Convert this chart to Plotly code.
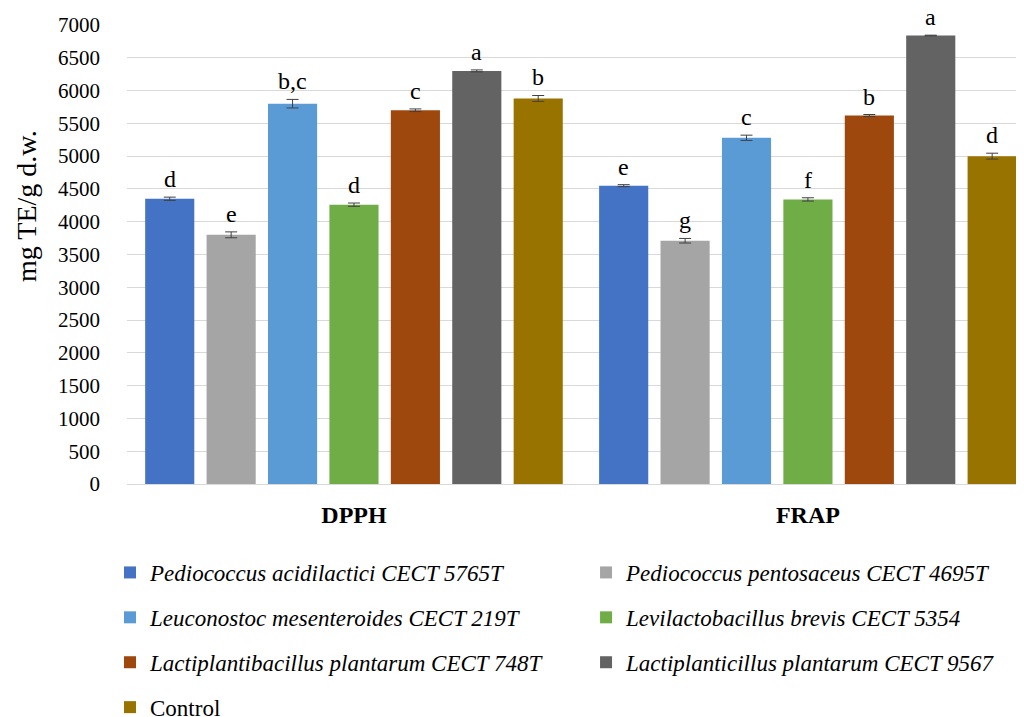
import plotly.graph_objects as go

categories = ["DPPH", "FRAP"]
series_names = [
    "<i>Pediococcus acidilactici CECT 5765T</i>",
    "<i>Pediococcus pentosaceus CECT 4695T</i>",
    "<i>Leuconostoc mesenteroides CECT 219T</i>",
    "<i>Levilactobacillus brevis CECT 5354</i>",
    "<i>Lactiplantibacillus plantarum CECT 748T</i>",
    "<i>Lactiplanticillus plantarum CECT 9567</i>",
    "Control",
]
values = [
    [4350, 4550],
    [3800, 3710],
    [5800, 5280],
    [4260, 4340],
    [5700, 5620],
    [6300, 6840],
    [5880, 5000],
]
errors = [
    [25, 15],
    [45, 35],
    [65, 40],
    [25, 25],
    [20, 15],
    [15, 5],
    [45, 45],
]
letters = [
    ["d", "e"],
    ["e", "g"],
    ["b,c", "c"],
    ["d", "f"],
    ["c", "b"],
    ["a", "a"],
    ["b", "d"],
]
colors = ["#4472C4", "#A5A5A5", "#5B9BD5", "#70AD47", "#9E480E", "#636363", "#997300"]

FONT = "Liberation Serif"
bargap = 0.053
n = len(series_names)

fig = go.Figure()
for i in range(n):
    fig.add_trace(go.Bar(
        x=categories, y=values[i],
        name=series_names[i],
        legend="legend" if i % 2 == 0 else "legend2",
        legendgroup="g%d" % i,
        marker=dict(color=colors[i], line=dict(width=0)),
        error_y=dict(type="data", array=errors[i], visible=True,
                     color="#404040", thickness=1, width=6),
    ))

annotations = []
for i in range(n):
    for c in range(len(categories)):
        xpos = c - (1 - bargap) / 2 + (i + 0.5) * (1 - bargap) / n
        annotations.append(dict(
            x=xpos, y=values[i][c] + errors[i][c], xref="x", yref="y",
            text=letters[i][c], showarrow=False, yanchor="bottom", yshift=3,
            font=dict(family=FONT, size=24, color="#000000"),
        ))

annotations.append(dict(
    text="mg TE/g d.w.", textangle=-90, showarrow=False,
    xref="paper", yref="paper", x=-0.1115, y=0.6057,
    xanchor="center", yanchor="middle",
    font=dict(family=FONT, size=28, color="#000000"),
))

legend_common = dict(
    orientation="v", xref="container", yref="container",
    xanchor="left", yanchor="top",
    font=dict(family=FONT, size=23, color="#000000"),
    itemwidth=30, traceorder="grouped", tracegroupgap=12,
    bgcolor="rgba(0,0,0,0)",
)

fig.update_layout(
    width=1024, height=717,
    margin=dict(l=119, r=8, t=17, b=241, autoexpand=False),
    paper_bgcolor="white", plot_bgcolor="white",
    barmode="group", bargap=bargap, bargroupgap=0.2,
    font=dict(family=FONT, color="#000000"),
    annotations=annotations,
    showlegend=True,
    legend=dict(x=0.0996, y=0.2427, **legend_common),
    legend2=dict(x=0.5645, y=0.2427, **legend_common),
)
fig.update_xaxes(
    type="category", range=[-0.5, 1.476],
    showline=True, linecolor="#D9D9D9", linewidth=1,
    ticks="", tickfont=dict(family=FONT, size=24, color="#000000", weight="bold"),
    ticklabelstandoff=9, automargin=False,
)
fig.update_yaxes(
    range=[0, 7000], dtick=500, showgrid=True, gridcolor="#D9D9D9", gridwidth=1,
    zeroline=False, showline=False, ticks="",
    tickfont=dict(family=FONT, size=21, color="#000000"),
    ticklabelstandoff=26, automargin=False,
)

fig.write_html("out.html")
